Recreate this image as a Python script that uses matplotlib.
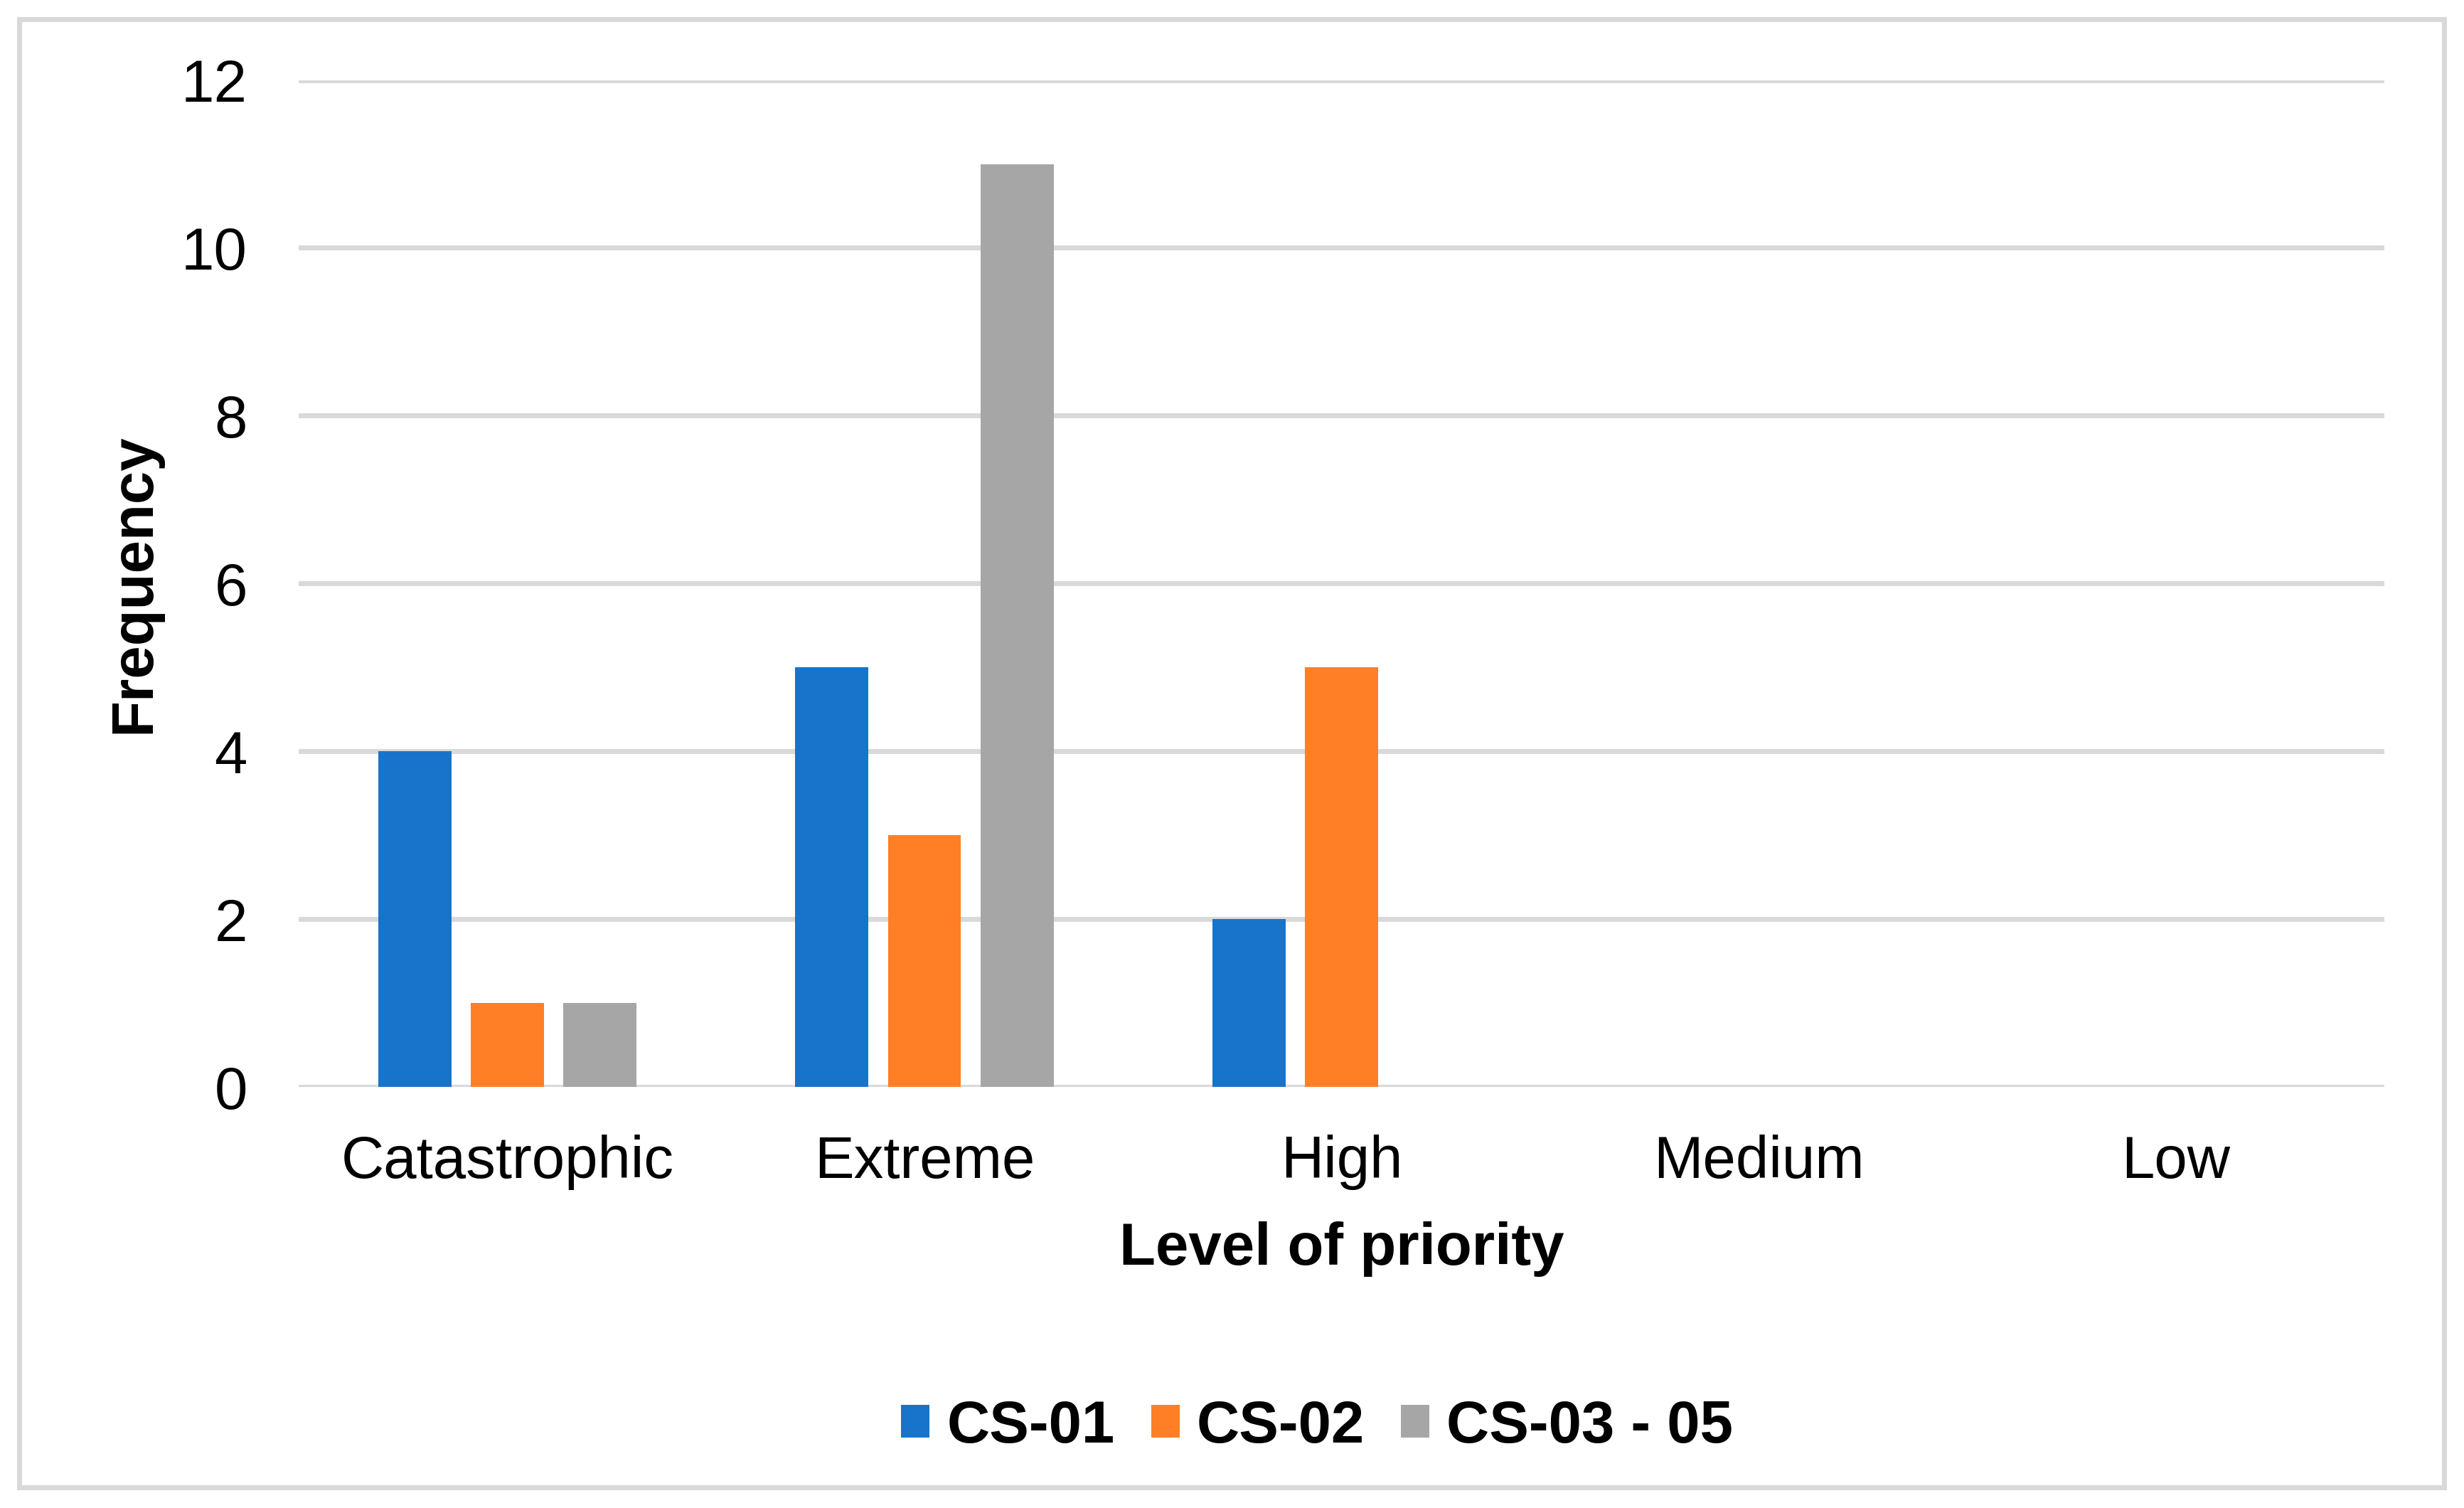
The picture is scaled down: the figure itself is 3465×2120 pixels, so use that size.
import numpy as np
import matplotlib.pyplot as plt
from matplotlib.patches import Rectangle

plt.rcParams['font.family'] = ['Liberation Sans', 'DejaVu Sans']

levels = ['Catastrophic', 'Extreme', 'High', 'Medium', 'Low']
series_names = ['CS-01', 'CS-02', 'CS-03 - 05']
cs01 = [4, 5, 2, 0, 0]
cs02 = [1, 3, 5, 0, 0]
cs0305 = [1, 11, 0, 0, 0]
colors = ['#1874CA', '#FF7F27', '#A6A6A6']
yticks = [0, 2, 4, 6, 8, 10, 12]

fig = plt.figure(figsize=(17.33, 10.6), dpi=200)
ax = fig.add_axes([0.1212, 0.2792, 0.8463, 0.6677])

x = np.arange(len(levels))
width = 0.175
step = 0.222
for i, (name, vals) in enumerate(zip(series_names, [cs01, cs02, cs0305])):
    ax.bar(x + (i - 1) * step, vals, width, color=colors[i], label=name, zorder=3)

ax.set_xlim(-0.5, len(levels) - 0.5)
ax.set_ylim(0, 12)
ax.set_yticks(yticks)
ax.set_xticks(x)
ax.set_xticklabels(levels)
ax.tick_params(axis='both', length=0, labelsize=30)
ax.tick_params(axis='y', pad=26)
ax.tick_params(axis='x', pad=24)

ax.grid(axis='y', color='#D9D9D9', linewidth=2.5, zorder=0)
for s in ax.spines.values():
    s.set_visible(False)

ax.set_ylabel('Frequency', fontsize=30, fontweight='bold', va='center')
ax.yaxis.set_label_coords(-0.079, 0.5)
ax.set_xlabel('Level of priority', fontsize=30, fontweight='bold', va='center')
ax.xaxis.set_label_coords(0.5, -0.161)

fig.legend(loc='center', bbox_to_anchor=(0.5344, 0.054), ncol=3, frameon=False,
           prop={'size': 30, 'weight': 'bold'}, handlelength=0.48, handleheight=0.48,
           handletextpad=0.29, columnspacing=0.61)

# outer chart frame
fig.patches.append(Rectangle((0.0077, 0.0135), 0.984, 0.974, transform=fig.transFigure,
                             fill=False, edgecolor='#D9D9D9', linewidth=2.5))

fig.savefig('out.png', dpi=200, facecolor='white')
